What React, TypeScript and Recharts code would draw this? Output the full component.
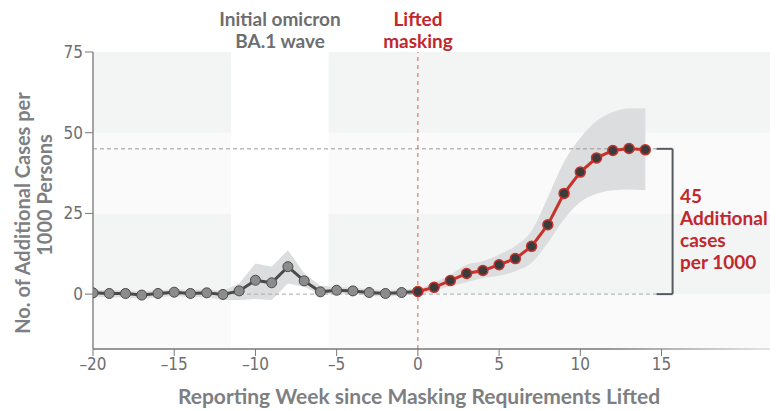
import { ComposedChart, Line, Area, XAxis, YAxis, ReferenceArea, ReferenceLine } from 'recharts';

// weeks relative to the lifting of masking requirements
const weeks = [-20, -19, -18, -17, -16, -15, -14, -13, -12, -11, -10, -9, -8, -7, -6, -5, -4, -3, -2, -1, 0, 1, 2, 3, 4, 5, 6, 7, 8, 9, 10, 11, 12, 13, 14];

// before lifting (weeks -20..0)
const baseValues = [0.4, 0.2, 0.2, -0.3, 0.2, 0.6, 0.2, 0.4, -0.1, 1.0, 4.3, 3.5, 8.5, 4.1, 0.7, 1.2, 1.0, 0.5, 0.2, 0.5, 0.8];
const baseLow = [-0.8, -1.0, -1.0, -1.5, -1.0, -0.6, -1.0, -1.0, -1.8, -1.8, -1.5, -1.8, 3.3, 2.3, -0.3, 0.2, 0.0, -0.5, -0.8, -0.5, 0.0];
const baseHigh = [1.4, 1.2, 1.2, 0.8, 1.2, 1.6, 1.3, 1.6, 1.0, 3.3, 9.5, 8.5, 13.6, 6.5, 2.6, 2.2, 2.0, 1.5, 1.2, 1.5, 1.8];

// after lifting (weeks 0..14)
const liftedValues = [0.8, 2.1, 4.2, 6.4, 7.3, 9.1, 11.0, 14.8, 21.5, 31.2, 37.8, 42.2, 44.5, 45.1, 44.7];
const liftedLow = [0.0, 1.0, 2.5, 3.7, 5.0, 5.7, 7.1, 9.7, 15.9, 23.2, 28.5, 31.1, 32.2, 32.4, 32.2];
const liftedHigh = [1.5, 3.5, 6.0, 9.1, 10.2, 12.3, 14.9, 19.6, 30.0, 41.0, 48.4, 53.6, 56.4, 57.5, 57.6];

const xTicks = [-20, -15, -10, -5, 0, 5, 10, 15];
const yTicks = [0, 25, 50, 75];
const annotation = ['45', 'Additional', 'cases', 'per 1000'];

const data = weeks.map((w, i) => {
    const l = i - 20; // index into lifted arrays
    return {
        week: w,
        base: i < baseValues.length ? baseValues[i] : undefined,
        baseBand: i < baseValues.length ? [baseLow[i], baseHigh[i]] : undefined,
        lifted: l >= 0 ? liftedValues[l] : undefined,
        liftedBand: l >= 0 ? [liftedLow[l], liftedHigh[l]] : undefined,
    };
});

const gray = '#6d6e71';
const red = '#c1272d';
const labelFont = "Lato, 'Open Sans', sans-serif";
const tickFont = "'Liberation Sans Narrow', 'DejaVu Sans Condensed', sans-serif";

export default function App() {
    return (
        <div style={{ position: 'relative', width: 770, height: 403 }}>
            <ComposedChart width={770} height={403} data={data} margin={{ top: 44, right: 6, bottom: 32, left: 0 }}>
                <defs>
                    <linearGradient id="axisFade" gradientUnits="userSpaceOnUse" x1="600" y1="0" x2="764" y2="0">
                        <stop offset="0" stopColor="#777" />
                        <stop offset="1" stopColor="#ddd" />
                    </linearGradient>
                </defs>
                {/* fond en bandes */}
                <ReferenceArea x1={-20} x2={21.8} y1={-17} y2={0} fill="#fafafa" fillOpacity={1} stroke="none" />
                <ReferenceArea x1={-20} x2={21.8} y1={0} y2={25} fill="#f3f4f4" fillOpacity={1} stroke="none" />
                <ReferenceArea x1={-20} x2={21.8} y1={25} y2={50} fill="#fafafa" fillOpacity={1} stroke="none" />
                <ReferenceArea x1={-20} x2={21.8} y1={50} y2={75} fill="#f3f4f4" fillOpacity={1} stroke="none" />
                <ReferenceArea x1={-11.5} x2={-5.5} y1={-17} y2={75} fill="#ffffff" fillOpacity={1} stroke="none" />

                <XAxis
                    dataKey="week"
                    type="number"
                    domain={[-20, 21.8]}
                    ticks={xTicks}
                    allowDataOverflow
                    height={30}
                    tickSize={7}
                    axisLine={{ stroke: 'url(#axisFade)', strokeWidth: 1.5 }}
                    tickLine={{ stroke: '#777' }}
                    tick={{ fill: gray, fontSize: 17, fontFamily: tickFont }}
                    tickFormatter={(v: number) => (v < 0 ? '\u2013' + Math.abs(v) : String(v))}
                />
                <YAxis
                    type="number"
                    domain={[-17, 75]}
                    ticks={yTicks}
                    allowDataOverflow
                    width={85}
                    tickSize={8}
                    axisLine={{ stroke: '#888', strokeWidth: 1.5 }}
                    tickLine={{ stroke: '#777' }}
                    tick={{ fill: gray, fontSize: 17, fontFamily: tickFont }}
                />

                <Area dataKey="baseBand" type="linear" fill="#dcddde" fillOpacity={1} stroke="none" isAnimationActive={false} activeDot={false} />
                <Area dataKey="liftedBand" type="monotone" fill="#dcddde" fillOpacity={1} stroke="none" isAnimationActive={false} activeDot={false} />

                <ReferenceLine segment={[{ x: -20, y: 45 }, { x: 14.69, y: 45 }]} stroke="#999" strokeDasharray="4 3" />
                <ReferenceLine segment={[{ x: -20, y: 0 }, { x: 14.69, y: 0 }]} stroke="#aaa" strokeDasharray="4 3" />
                <ReferenceLine x={0} stroke="#d9603b" strokeDasharray="4 4" />
                {/* accolade */}
                <ReferenceLine segment={[{ x: 14.69, y: 45 }, { x: 15.68, y: 45 }]} stroke="#555b60" strokeWidth={2} />
                <ReferenceLine segment={[{ x: 14.69, y: 0 }, { x: 15.68, y: 0 }]} stroke="#555b60" strokeWidth={2} />
                <ReferenceLine segment={[{ x: 15.68, y: 0 }, { x: 15.68, y: 45 }]} stroke="#555b60" strokeWidth={2} />

                <Line dataKey="base" type="linear" stroke="#4a4a4a" strokeWidth={3} dot={{ r: 5, fill: '#8c8c8c', stroke: '#4a4a4a', strokeWidth: 1 }} activeDot={false} isAnimationActive={false} />
                <Line dataKey="lifted" type="linear" stroke="#c8322c" strokeWidth={3} dot={{ r: 5, fill: '#3b3b3b', stroke: '#c8322c', strokeWidth: 1.5 }} activeDot={false} isAnimationActive={false} />
            </ComposedChart>

            {/* textes par-dessus le graphique */}
            <svg width={770} height={403} style={{ position: 'absolute', left: 0, top: 0, pointerEvents: 'none' }}>
                <g fontFamily={labelFont} fontWeight={700} fontSize={19}>
                    <text x={272} y={18} textAnchor="middle" fill={gray}>Initial omicron</text>
                    <text x={272} y={40} textAnchor="middle" fill={gray}>BA.1 wave</text>
                    <text x={410} y={18} textAnchor="middle" fill={red}>Lifted</text>
                    <text x={410} y={40} textAnchor="middle" fill={red}>masking</text>
                    {annotation.map((t, i) => (
                        <text key={t} x={672} y={195 + i * 22} fill={red}>{t}</text>
                    ))}
                </g>
                <g fontFamily={labelFont} fontWeight={700} fill="#7d7f82">
                    <text x={411} y={396} fontSize={21} textAnchor="middle">Reporting Week since Masking Requirements Lifted</text>
                    <text x={22} y={205} fontSize={20} transform="rotate(-90 22 205)" textAnchor="middle">No. of Additional Cases per</text>
                    <text x={44} y={187} fontSize={20} transform="rotate(-90 44 187)" textAnchor="middle">1000 Persons</text>
                </g>
            </svg>
        </div>
    );
}
